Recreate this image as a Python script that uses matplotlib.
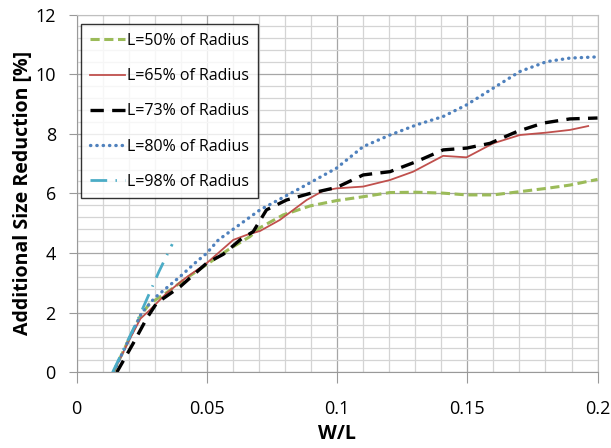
import matplotlib
matplotlib.use("Agg")
import matplotlib.pyplot as plt
from matplotlib.ticker import MultipleLocator, FuncFormatter

# ---- data ----
x50 = [0.0141, 0.020, 0.0245, 0.028, 0.035, 0.042, 0.050, 0.058, 0.0665, 0.0704,
       0.0793, 0.0896, 0.0998, 0.110, 0.1203, 0.1305, 0.1407, 0.1497, 0.1599,
       0.1702, 0.1804, 0.1894, 0.200]
y50 = [0.0, 1.1, 1.9, 2.3, 2.7, 3.15, 3.62, 4.1, 4.55, 4.85,
       5.28, 5.58, 5.76, 5.89, 6.03, 6.04, 6.01, 5.95, 5.95,
       6.06, 6.17, 6.28, 6.47]

x65 = [0.0141, 0.020, 0.0245, 0.0281, 0.0345, 0.0416, 0.0499, 0.055, 0.0601, 0.0653,
       0.0704, 0.078, 0.0883, 0.0947, 0.0998, 0.110, 0.1203, 0.1292, 0.1407, 0.1497,
       0.1599, 0.1702, 0.1804, 0.1894, 0.1964]
y65 = [0.0, 1.05, 1.8, 2.09, 2.65, 3.15, 3.66, 4.05, 4.44, 4.61,
       4.74, 5.11, 5.78, 6.09, 6.17, 6.23, 6.45, 6.73, 7.26, 7.21,
       7.68, 7.96, 8.04, 8.13, 8.26]

x73 = [0.0154, 0.0217, 0.0269, 0.0307, 0.0397, 0.0499, 0.0563, 0.0627, 0.0678, 0.0729,
       0.0806, 0.0896, 0.0998, 0.110, 0.1203, 0.1305, 0.1407, 0.1497, 0.1587, 0.1689,
       0.1791, 0.1894, 0.200]
y73 = [0.0, 0.97, 1.81, 2.32, 2.87, 3.66, 3.96, 4.44, 4.72, 5.45,
       5.78, 6.0, 6.2, 6.62, 6.73, 7.07, 7.46, 7.52, 7.68, 8.07,
       8.36, 8.50, 8.53]

x80 = [0.0141, 0.020, 0.025, 0.030, 0.0397, 0.046, 0.0499, 0.0544, 0.0601, 0.0704,
       0.0857, 0.0998, 0.110, 0.1203, 0.1305, 0.1407, 0.1497, 0.1599, 0.1702, 0.1804,
       0.1894, 0.200]
y80 = [0.0, 1.1, 2.0, 2.5, 3.21, 3.71, 3.99, 4.44, 4.8, 5.45,
       6.17, 6.85, 7.57, 7.96, 8.30, 8.58, 8.97, 9.53, 10.09, 10.42,
       10.54, 10.58]

x98 = [0.0138, 0.0237, 0.0316, 0.0367]
y98 = [0.0, 1.81, 3.38, 4.30]

labels = ["L=50% of Radius", "L=65% of Radius", "L=73% of Radius",
          "L=80% of Radius", "L=98% of Radius"]

plt.rcParams["font.family"] = ["Open Sans", "DejaVu Sans"]

fig = plt.figure(figsize=(6.11, 4.48), dpi=100)
ax = fig.add_axes([0.1255, 0.169, 0.8525, 0.7985])

ax.plot(x50, y50, color="#9BBB59", lw=2.2, ls=(0, (3, 1.5)), label=labels[0])
ax.plot(x65, y65, color="#C0504D", lw=1.3, ls="-", label=labels[1])
ax.plot(x73, y73, color="black", lw=2.4, ls=(0, (4, 2.5)), label=labels[2])
ax.plot(x80, y80, color="#4F81BD", lw=2.4, ls=(0, (0.1, 1.8)),
        dash_capstyle="round", label=labels[3])
ax.plot(x98, y98, color="#4BACC6", lw=2.0, ls=(0, (6, 3, 0.5, 3)), label=labels[4])

ax.set_xlim(0, 0.2)
ax.set_ylim(0, 12)
ax.xaxis.set_major_locator(MultipleLocator(0.05))
ax.xaxis.set_minor_locator(MultipleLocator(0.01))
ax.yaxis.set_major_locator(MultipleLocator(2))
ax.yaxis.set_minor_locator(MultipleLocator(0.4))
ax.xaxis.set_major_formatter(FuncFormatter(lambda v, p: f"{v:g}"))

ax.grid(which="major", color="#A6A6A6", lw=0.9)
ax.grid(which="minor", color="#D4D4D4", lw=0.9)
ax.set_axisbelow(True)
for s in ax.spines.values():
    s.set_color("#BFBFBF")
ax.spines["left"].set_color("#999999")
ax.spines["bottom"].set_color("#999999")
ax.tick_params(which="major", length=6, color="#999999", labelsize=13)
ax.tick_params(axis="x", which="major", length=8, pad=12)
ax.tick_params(axis="y", which="major", pad=9)
ax.tick_params(which="minor", length=0)

ax.set_xlabel("W/L", fontsize=14, fontweight="bold", labelpad=4)
ax.set_ylabel("Additional Size Reduction [%]", fontsize=14, fontweight="bold", labelpad=2)

leg = ax.legend(loc="upper left", bbox_to_anchor=(0.008, 0.973), fontsize=11.5,
                frameon=True, fancybox=False, handlelength=2.2, handletextpad=0.15,
                labelspacing=1.2, borderpad=0.55, borderaxespad=0)
leg.get_frame().set_edgecolor("black")
leg.get_frame().set_linewidth(1.0)

fig.savefig("out.png", dpi=100)
